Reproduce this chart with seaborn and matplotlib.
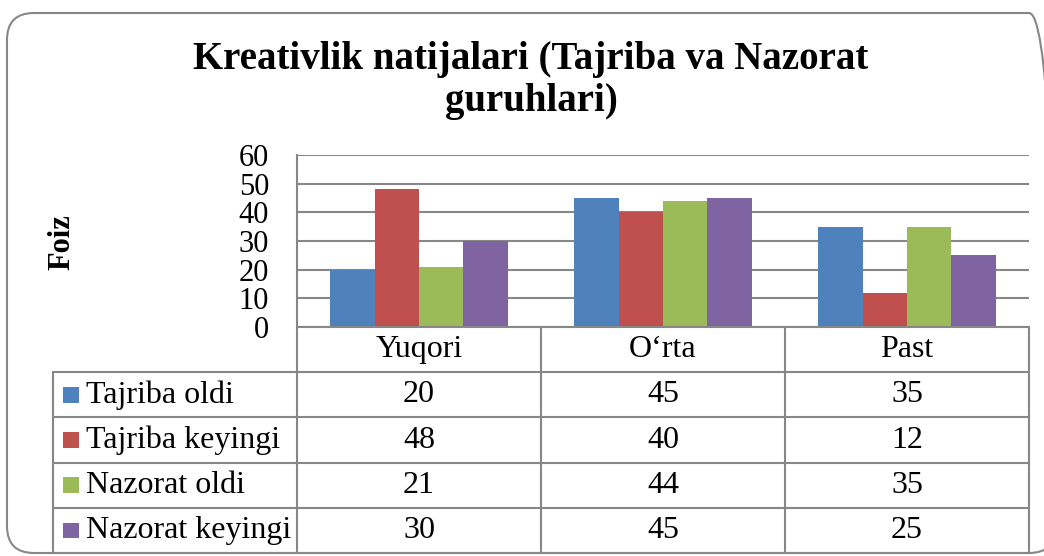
import pandas as pd
import matplotlib.pyplot as plt
import matplotlib.transforms as mtransforms
from matplotlib.patches import FancyBboxPatch, Rectangle
import seaborn as sns

# Data
categories = ['Yuqori', 'O\u2018rta', 'Past']
series = ['Tajriba oldi', 'Tajriba keyingi', 'Nazorat oldi', 'Nazorat keyingi']
tajriba_oldi = [20, 45, 35]
tajriba_keyingi = [48, 40, 12]
nazorat_oldi = [21, 44, 35]
nazorat_keyingi = [30, 45, 25]
colors = ['#4F81BD', '#C0504D', '#9BBB59', '#8064A2']

values = [tajriba_oldi, tajriba_keyingi, nazorat_oldi, nazorat_keyingi]
df = pd.DataFrame([
    {'Daraja': c, 'Guruh': s, 'Foiz': v[i]}
    for s, v in zip(series, values)
    for i, c in enumerate(categories)
])

sns.set_style('white')
plt.rcParams['font.family'] = ['Liberation Serif', 'DejaVu Serif']
plt.rcParams['text.color'] = 'black'
plt.rcParams['ytick.color'] = 'black'
plt.rcParams['xtick.color'] = 'black'
grey = '#878787'

fig = plt.figure(figsize=(10.44, 5.56), dpi=100)
ax = fig.add_axes([297 / 1044, 1 - 327 / 556, 732 / 1044, 172 / 556])

sns.barplot(data=df, x='Daraja', y='Foiz', hue='Guruh', order=categories,
            hue_order=series, palette=colors, width=0.726, saturation=1,
            edgecolor='none', legend=False, ax=ax)

ax.set_xlim(-0.5, 2.5)
ax.set_ylim(0, 60)
ax.set_yticks(range(0, 61, 10))
ax.tick_params(axis='y', labelsize=22, length=0, pad=20, labelcolor='black')
ax.set_xticks([])
ax.set_xlabel('')
ax.set_ylabel('')
ax.yaxis.grid(True, color=grey, lw=1.5)
ax.set_axisbelow(True)
for side in ['top', 'right', 'bottom']:
    ax.spines[side].set_visible(False)
ax.spines['left'].set_color(grey)
ax.spines['left'].set_linewidth(1.5)

# Data table under the plot (x in data units, y in axes fraction)
trans = mtransforms.blended_transform_factory(ax.transData, ax.transAxes)
row_h = 45.2 / 172
n_rows = len(series) + 1
line_kw = dict(color=grey, lw=1.5, transform=trans, clip_on=False)

# horizontal lines
ax.plot([-0.5, 2.5], [0, 0], **line_kw)
for r in range(1, n_rows + 1):
    ax.plot([-1.5, 2.5], [-r * row_h, -r * row_h], **line_kw)
# vertical lines
ax.plot([-1.5, -1.5], [-row_h, -n_rows * row_h], **line_kw)
for xb in [-0.5, 0.5, 1.5, 2.5]:
    ax.plot([xb, xb], [0, -n_rows * row_h], **line_kw)

for i, c in enumerate(categories):
    ax.text(i, -0.5 * row_h, c, transform=trans, ha='center', va='center',
            fontsize=23)

for r, (s, v, col) in enumerate(zip(series, values, colors), start=1):
    yc = -(r + 0.5) * row_h
    ax.add_patch(Rectangle((-1.459, yc - 0.045), 0.066, 0.09, transform=trans,
                           facecolor=col, edgecolor='none', clip_on=False))
    ax.text(-1.365, yc, s, transform=trans, ha='left', va='center', fontsize=23)
    for i, val in enumerate(v):
        ax.text(i, yc, str(val), transform=trans, ha='center', va='center',
                fontsize=23)

# Title and y label
fig.text(531 / 1044, 1 - 41 / 556,
         'Kreativlik natijalari (Tajriba va Nazorat\nguruhlari)',
         ha='center', va='top', fontsize=28, fontweight='bold', linespacing=1.18)
fig.text(62 / 1044, 1 - 242 / 556, 'Foiz', rotation=90, ha='center',
         va='center', fontsize=22, fontweight='bold')

# Rounded chart frame
frame = FancyBboxPatch((0.07, 0.03), 10.49, 5.40,
                       boxstyle='round,pad=0,rounding_size=0.27',
                       transform=fig.dpi_scale_trans, facecolor='none',
                       edgecolor=grey, lw=1.5, clip_on=False)
fig.patches.append(frame)

fig.savefig('out.png', dpi=100)
